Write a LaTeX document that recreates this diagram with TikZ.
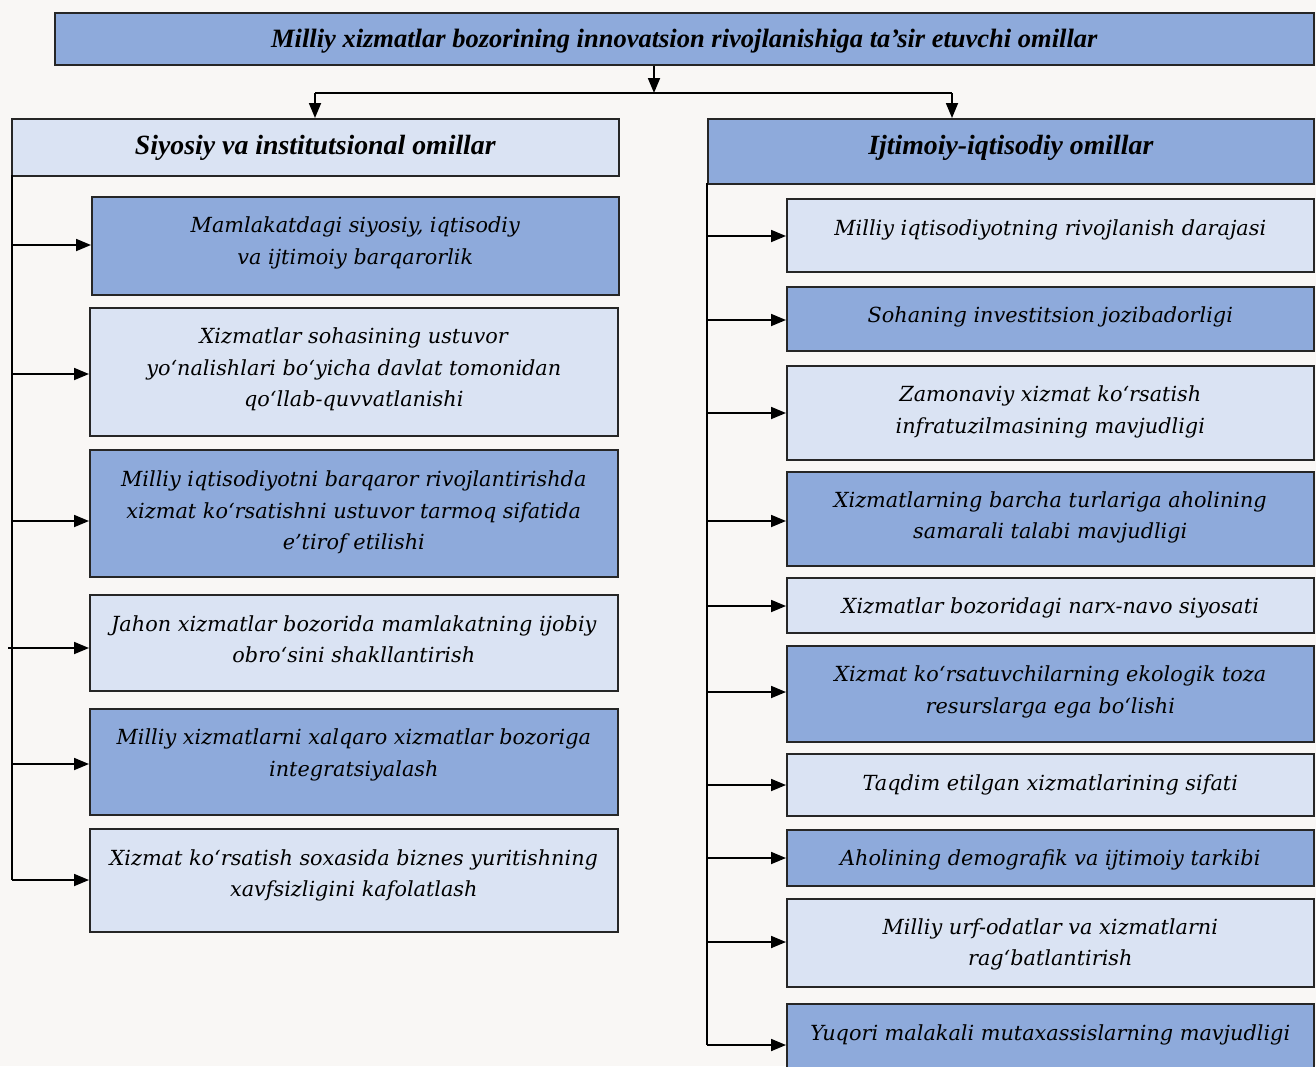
\documentclass[tikz,border=0pt]{standalone}
\usepackage{fontspec}
\setmainfont{DejaVu Serif}
\newfontfamily\headfont{Liberation Serif}
\usetikzlibrary{arrows.meta}
\definecolor{dkfill}{HTML}{8EAADB}
\definecolor{ltfill}{HTML}{DAE3F3}
\definecolor{bgcol}{HTML}{F9F7F5}
\tikzset{
  boxbase/.style={draw=black!85, line width=1.6pt, anchor=north west, inner sep=0pt},
  dk/.style={boxbase, fill=dkfill},
  lt/.style={boxbase, fill=ltfill},
  txt/.style={align=center, inner sep=0pt, text=black},
  bodyf/.style={txt, font=\fontsize{20.8}{31.5}\selectfont\itshape},
  headf/.style={txt, font=\headfont\fontsize{26.5}{30}\selectfont\bfseries\itshape},
  subf/.style={txt, font=\headfont\fontsize{27.8}{30}\selectfont\bfseries\itshape},
  arr/.style={line width=1.8pt, -{Triangle[length=15pt,width=12pt]}},
  ln/.style={line width=1.8pt}
}
\begin{document}
\begin{tikzpicture}[x=1pt,y=-1pt]
\fill[bgcol] (0,0) rectangle (1316,1066);
\useasboundingbox (0,0) rectangle (1316,1066);
\clip (0,0) rectangle (1316,1066);
% title
\node[dk, minimum width=1259pt, minimum height=52pt] (title) at (54,12) {};
\node[headf] (titlet) at ([yshift=-2pt]title.center) {Milliy xizmatlar bozorining innovatsion rivojlanishiga ta’sir etuvchi omillar};
% headers
\node[lt, minimum width=607pt, minimum height=57pt] (lh) at (11,118) {};
\node[subf] (lht) at ([yshift=-1pt]lh.center) {Siyosiy va institutsional omillar};
\node[dk, minimum width=606pt, minimum height=65pt] (rh) at (707,118) {};
\node[subf] (rht) at ([yshift=3.5pt]rh.center) {Ijtimoiy-iqtisodiy omillar};
% connections from title
\coordinate (j) at (654,93);
\coordinate (jl) at (315,93);
\coordinate (jr) at (952,93);
\draw[arr] (title.south -| j) -- (j);
\draw[ln] (jl) -- (jr);
\draw[arr] (jl) -- (jl |- lh.north);
\draw[arr] (jr) -- (jr |- rh.north);
% left boxes
\node[dk, minimum width=527pt, minimum height=98pt] (l1) at (91,196) {};
\node[bodyf] (l1t) at ([yshift=3pt]l1.center) {Mamlakatdagi siyosiy, iqtisodiy\\va ijtimoiy barqarorlik};
\node[lt, minimum width=528pt, minimum height=128pt] (l2) at (89,307) {};
\node[bodyf] (l2t) at ([yshift=2.5pt]l2.center) {Xizmatlar sohasining ustuvor\\yo‘nalishlari bo‘yicha davlat tomonidan\\qo‘llab-quvvatlanishi};
\node[dk, minimum width=528pt, minimum height=127pt] (l3) at (89,449) {};
\node[bodyf] (l3t) at ([yshift=1pt]l3.center) {Milliy iqtisodiyotni barqaror rivojlantirishda\\xizmat ko‘rsatishni ustuvor tarmoq sifatida\\e’tirof etilishi};
\node[lt, minimum width=528pt, minimum height=96pt] (l4) at (89,594) {};
\node[bodyf] (l4t) at ([yshift=3.5pt]l4.center) {Jahon xizmatlar bozorida mamlakatning ijobiy\\obro‘sini shakllantirish};
\node[dk, minimum width=528pt, minimum height=106pt] (l5) at (89,708) {};
\node[bodyf] (l5t) at ([yshift=7pt]l5.center) {Milliy xizmatlarni xalqaro xizmatlar bozoriga\\integratsiyalash};
\node[lt, minimum width=528pt, minimum height=103pt] (l6) at (89,828) {};
\node[bodyf] (l6t) at ([yshift=5pt]l6.center) {Xizmat ko‘rsatish soxasida biznes yuritishning\\xavfsizligini kafolatlash};
% left spine
\coordinate (ls) at (12,175);
\coordinate (lsb) at (12,880);
\draw[ln] (ls) -- (lsb);
\draw[arr] (12,245) -- (l1.west |- 0,245);
\draw[arr] (12,374) -- (l2.west |- 0,374);
\draw[arr] (12,521) -- (l3.west |- 0,521);
\draw[arr] (8,648) -- (l4.west |- 0,648);
\draw[arr] (12,764) -- (l5.west |- 0,764);
\draw[arr] (lsb) -- (l6.west |- lsb);
% right boxes
\node[lt, minimum width=527pt, minimum height=73pt] (r1) at (786,198) {};
\node[bodyf] (r1t) at ([yshift=5.5pt]r1.center) {Milliy iqtisodiyotning rivojlanish darajasi};
\node[dk, minimum width=527pt, minimum height=64pt] (r2) at (786,286) {};
\node[bodyf] (r2t) at ([yshift=2pt]r2.center) {Sohaning investitsion jozibadorligi};
\node[lt, minimum width=527pt, minimum height=94pt] (r3) at (786,365) {};
\node[bodyf] (r3t) at ([yshift=1pt]r3.center) {Zamonaviy xizmat ko‘rsatish\\infratuzilmasining mavjudligi};
\node[dk, minimum width=527pt, minimum height=94pt] (r4) at (786,471) {};
\node[bodyf] (r4t) at ([yshift=1.5pt]r4.center) {Xizmatlarning barcha turlariga aholining\\samarali talabi mavjudligi};
\node[lt, minimum width=527pt, minimum height=55pt] (r5) at (786,577) {};
\node[bodyf] (r5t) at ([yshift=-2.5pt]r5.center) {Xizmatlar bozoridagi narx-navo siyosati};
\node[dk, minimum width=527pt, minimum height=96pt] (r6) at (786,645) {};
\node[bodyf] (r6t) at ([yshift=2pt]r6.center) {Xizmat ko‘rsatuvchilarning ekologik toza\\resurslarga ega bo‘lishi};
\node[lt, minimum width=527pt, minimum height=62pt] (r7) at (786,753) {};
\node[bodyf] (r7t) at ([yshift=0pt]r7.center) {Taqdim etilgan xizmatlarining sifati};
\node[dk, minimum width=527pt, minimum height=56pt] (r8) at (786,829) {};
\node[bodyf] (r8t) at ([yshift=-2pt]r8.center) {Aholining demografik va ijtimoiy tarkibi};
\node[lt, minimum width=527pt, minimum height=88pt] (r9) at (786,898) {};
\node[bodyf] (r9t) at ([yshift=-1.5pt]r9.center) {Milliy urf-odatlar va xizmatlarni\\rag‘batlantirish};
\node[dk, minimum width=527pt, minimum height=80pt] (r10) at (786,1003) {};
\node[bodyf] (r10t) at ([yshift=9pt]r10.center) {Yuqori malakali mutaxassislarning mavjudligi};
% right spine
\coordinate (rs) at (707,183);
\coordinate (rsb) at (707,1045);
\draw[ln] (rs) -- (rsb);
\draw[arr] (707,236) -- (r1.west |- 0,236);
\draw[arr] (707,320) -- (r2.west |- 0,320);
\draw[arr] (707,413) -- (r3.west |- 0,413);
\draw[arr] (707,521) -- (r4.west |- 0,521);
\draw[arr] (707,606) -- (r5.west |- 0,606);
\draw[arr] (707,692) -- (r6.west |- 0,692);
\draw[arr] (707,785) -- (r7.west |- 0,785);
\draw[arr] (707,858) -- (r8.west |- 0,858);
\draw[arr] (707,942) -- (r9.west |- 0,942);
\draw[arr] (rsb) -- (r10.west |- rsb);
\end{tikzpicture}
\end{document}
